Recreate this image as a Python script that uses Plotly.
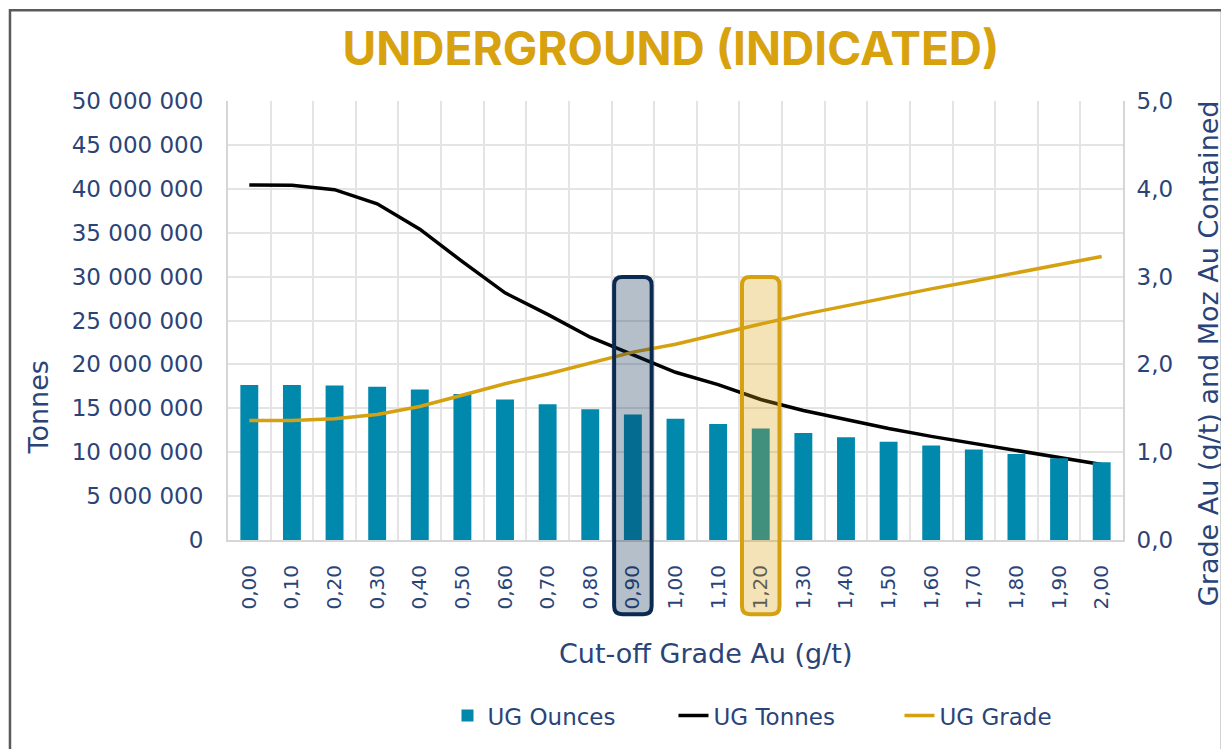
import plotly.graph_objects as go

# Cut-off grades (tick labels) and series
cutoff_grades = ["0,00", "0,10", "0,20", "0,30", "0,40", "0,50", "0,60", "0,70",
                 "0,80", "0,90", "1,00", "1,10", "1,20", "1,30", "1,40", "1,50",
                 "1,60", "1,70", "1,80", "1,90", "2,00"]
ug_ounces_moz = [1.765, 1.765, 1.76, 1.745, 1.715, 1.663, 1.60, 1.546, 1.49, 1.43,
                 1.38, 1.32, 1.27, 1.22, 1.17, 1.12, 1.075, 1.03, 0.98, 0.93, 0.885]
ug_tonnes = [40430000, 40400000, 39900000, 38300000, 35400000, 31700000, 28150000,
             25700000, 23100000, 21100000, 19100000, 17700000, 16000000, 14750000,
             13700000, 12700000, 11800000, 11000000, 10200000, 9400000, 8600000]
ug_grade = [1.36, 1.36, 1.38, 1.43, 1.52, 1.65, 1.78, 1.89, 2.02, 2.14, 2.23,
            2.35, 2.46, 2.57, 2.67, 2.77, 2.86, 2.95, 3.04, 3.13, 3.23]

# highlighted cut-offs: (category, border colour, fill colour)
highlights = [("0,90", "#0B2A4F", "rgba(11,42,79,0.30)"),
              ("1,20", "#D6A111", "rgba(214,161,17,0.30)")]

NAVY = "#2A4478"
FONT = "DejaVu Sans"


def rounded_box(xc, half_w, y0, y1, rx, ry):
    """SVG path for a rounded rectangle (x in category index, y in paper)."""
    x0, x1 = xc - half_w, xc + half_w
    return (f"M {x0 + rx},{y0} L {x1 - rx},{y0} Q {x1},{y0} {x1},{y0 + ry} "
            f"L {x1},{y1 - ry} Q {x1},{y1} {x1 - rx},{y1} L {x0 + rx},{y1} "
            f"Q {x0},{y1} {x0},{y1 - ry} L {x0},{y0 + ry} Q {x0},{y0} {x0 + rx},{y0} Z")


fig = go.Figure()

fig.add_trace(go.Bar(
    x=cutoff_grades, y=ug_ounces_moz, name="UG Ounces", yaxis="y2",
    marker=dict(color="#0088AD", line=dict(width=0)), width=0.42
))
fig.add_trace(go.Scatter(
    x=cutoff_grades, y=ug_tonnes, name="UG Tonnes", mode="lines",
    line=dict(color="#000000", width=3.5)
))
fig.add_trace(go.Scatter(
    x=cutoff_grades, y=ug_grade, name="UG Grade", mode="lines", yaxis="y2",
    line=dict(color="#D6A111", width=3.5)
))

shapes = []
for cat, border, fill in highlights:
    idx = cutoff_grades.index(cat)
    shapes.append(dict(
        type="path", xref="x", yref="paper",
        path=rounded_box(idx, 0.44, -0.169, 0.599, 0.19, 0.018),
        line=dict(color=border, width=4), fillcolor=fill, layer="above"
    ))

# outer frame of the chart
shapes.append(dict(
    type="rect", xref="paper", yref="paper",
    x0=-0.2436, x1=1.1106, y0=-0.49, y1=1.207,
    line=dict(color="#5A5A5A", width=2.5), fillcolor="rgba(0,0,0,0)", layer="below"
))

axis_title_font = dict(family=FONT, size=27, color=NAVY)
annotations = [
    dict(text="Tonnes", xref="paper", yref="paper", x=-0.2123, y=0.302,
         xanchor="center", yanchor="middle",
         textangle=-90, showarrow=False, font=axis_title_font),
    dict(text="Grade Au (g/t) and Moz Au Contained", xref="paper", yref="paper",
         x=1.095, y=0.4257, xanchor="center", yanchor="middle",
         textangle=-90, showarrow=False, font=axis_title_font),
    dict(text="Cut-off Grade Au (g/t)", xref="paper", yref="paper",
         x=0.534, y=-0.259, xanchor="center", yanchor="middle",
         showarrow=False, font=axis_title_font),
]

fig.update_layout(
    width=1221, height=741, autosize=False,
    margin=dict(l=220, r=106, t=93, b=204),
    paper_bgcolor="white", plot_bgcolor="white",
    separators=", ",
    font=dict(family=FONT, color=NAVY, size=23),
    title=dict(
        text="<b>UNDERGROUND (INDICATED)</b>",
        font=dict(family="Inter", size=46, color="#D8A20F", weight=800),
        x=0.495, xref="paper", xanchor="center",
        y=0.945, yref="container", yanchor="middle"
    ),
    xaxis=dict(
        type="category", tickson="boundaries", tickangle=-90,
        showgrid=True, gridcolor="#E4E4E4", gridwidth=1.5,
        showline=True, linecolor="#D6D6D6", linewidth=2,
        ticks="", ticklabelstandoff=15, automargin=False,
        tickfont=dict(size=20, color=NAVY)
    ),
    yaxis=dict(
        range=[0, 50000000], dtick=5000000, tickformat=",.0f",
        showgrid=True, gridcolor="#E4E4E4", gridwidth=1.5,
        showline=True, linecolor="#D6D6D6", linewidth=2,
        zeroline=False, ticks="", ticklabelstandoff=18, automargin=False,
        tickfont=dict(size=23, color=NAVY)
    ),
    yaxis2=dict(
        overlaying="y", side="right", range=[0, 5], dtick=1, tickformat=".1f",
        showgrid=False, showline=True, linecolor="#D6D6D6", linewidth=2,
        zeroline=False, ticks="", ticklabelstandoff=7, automargin=False,
        tickfont=dict(size=23, color=NAVY)
    ),
    legend=dict(
        orientation="h", x=0.624, xanchor="center", y=-0.40, yanchor="middle",
        font=dict(size=23, color=NAVY), entrywidth=181, traceorder="normal"
    ),
    bargap=0.58,
    shapes=shapes,
    annotations=annotations,
)

fig.write_html("out.html")
